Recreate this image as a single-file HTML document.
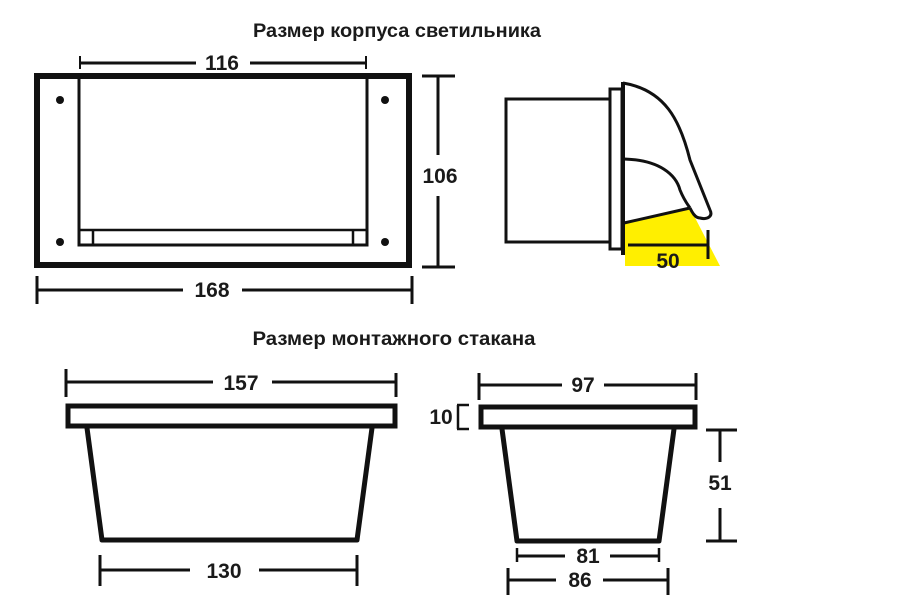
<!DOCTYPE html>
<html><head><meta charset="utf-8"><style>
html,body{margin:0;padding:0;background:#fff;}
svg{display:block;}
text{font-family:"Liberation Sans","DejaVu Sans",sans-serif;font-weight:bold;fill:#1a1a1a;}
</style></head><body>
<svg width="900" height="595" viewBox="0 0 900 595" xmlns="http://www.w3.org/2000/svg">
<g stroke="#111" fill="none" stroke-linecap="butt">
<rect x="37" y="76" width="372" height="189" stroke-width="6"/>
<rect x="79" y="76" width="288" height="169" stroke-width="3"/>
<line x1="79" y1="230" x2="367" y2="230" stroke-width="2.5"/>
<line x1="93" y1="230" x2="93" y2="245" stroke-width="2.5"/>
<line x1="353" y1="230" x2="353" y2="245" stroke-width="2.5"/>
<line x1="79" y1="63" x2="196" y2="63" stroke-width="3"/>
<line x1="250" y1="63" x2="366" y2="63" stroke-width="3"/>
<line x1="80" y1="56" x2="80" y2="69" stroke-width="2"/>
<line x1="366" y1="56" x2="366" y2="69" stroke-width="2"/>
<line x1="37" y1="290" x2="183" y2="290" stroke-width="3"/>
<line x1="242" y1="290" x2="412" y2="290" stroke-width="3"/>
<line x1="37" y1="276" x2="37" y2="304" stroke-width="3"/>
<line x1="412" y1="276" x2="412" y2="304" stroke-width="3"/>
<line x1="438" y1="76" x2="438" y2="155" stroke-width="3"/>
<line x1="438" y1="196" x2="438" y2="267" stroke-width="3"/>
<line x1="422" y1="76" x2="455" y2="76" stroke-width="3"/>
<line x1="422" y1="267" x2="455" y2="267" stroke-width="3"/>
</g>
<g fill="#111">
<circle cx="60" cy="100" r="4"/><circle cx="385" cy="100" r="4"/>
<circle cx="60" cy="242" r="4"/><circle cx="385" cy="242" r="4"/>
</g>
<polygon points="625,222 690,208 720,266 625,266" fill="#ffef00"/>
<g stroke="#111" fill="none">
<rect x="506" y="99" width="104" height="143" stroke-width="3"/>
<rect x="610" y="89" width="12" height="160" stroke-width="3"/>
<line x1="623" y1="82" x2="623" y2="255" stroke-width="4"/>
<path d="M623,83 C665,90 680,120 690,160 L710,210 C713,216 708,220 700,218 C695,218 692,212 690,208" stroke-width="3"/>
<path d="M624,159 C660,160 676,175 680,190 C684,200 688,205 690,208" stroke-width="3"/>
<line x1="624" y1="223" x2="690" y2="208" stroke-width="3"/>
<line x1="628" y1="245" x2="708" y2="245" stroke-width="3"/>
<line x1="708" y1="230" x2="708" y2="259" stroke-width="3"/>
</g>
<g stroke="#111" fill="none">
<rect x="68" y="406" width="327" height="20" stroke-width="5"/>
<polyline points="87,428 102,540 357,540 372,428" stroke-width="5" stroke-linejoin="round"/>
<line x1="66" y1="382" x2="213" y2="382" stroke-width="3"/>
<line x1="272" y1="382" x2="396" y2="382" stroke-width="3"/>
<line x1="66" y1="369" x2="66" y2="397" stroke-width="3"/>
<line x1="396" y1="373" x2="396" y2="397" stroke-width="3"/>
<line x1="100" y1="570" x2="190" y2="570" stroke-width="3"/>
<line x1="259" y1="570" x2="357" y2="570" stroke-width="3"/>
<line x1="100" y1="555" x2="100" y2="586" stroke-width="3"/>
<line x1="357" y1="555" x2="357" y2="586" stroke-width="3"/>
</g>
<g stroke="#111" fill="none">
<rect x="481" y="407" width="214" height="20" stroke-width="5"/>
<polyline points="502,429 517,541 659,541 674,429" stroke-width="5" stroke-linejoin="round"/>
<line x1="479" y1="385" x2="562" y2="385" stroke-width="3"/>
<line x1="604" y1="385" x2="696" y2="385" stroke-width="3"/>
<line x1="479" y1="373" x2="479" y2="400" stroke-width="3"/>
<line x1="696" y1="373" x2="696" y2="400" stroke-width="3"/>
<line x1="457" y1="405" x2="469" y2="405" stroke-width="2.5"/>
<line x1="457" y1="429" x2="469" y2="429" stroke-width="2.5"/>
<line x1="458" y1="405" x2="458" y2="429" stroke-width="2.5"/>
<line x1="720" y1="430" x2="720" y2="462" stroke-width="3"/>
<line x1="720" y1="508" x2="720" y2="541" stroke-width="3"/>
<line x1="706" y1="430" x2="737" y2="430" stroke-width="3"/>
<line x1="706" y1="541" x2="737" y2="541" stroke-width="3"/>
<line x1="517" y1="556" x2="565" y2="556" stroke-width="3"/>
<line x1="610" y1="556" x2="659" y2="556" stroke-width="3"/>
<line x1="517" y1="548" x2="517" y2="562" stroke-width="2.5"/>
<line x1="659" y1="548" x2="659" y2="562" stroke-width="2.5"/>
<line x1="508" y1="580" x2="556" y2="580" stroke-width="3"/>
<line x1="603" y1="580" x2="668" y2="580" stroke-width="3"/>
<line x1="508" y1="568" x2="508" y2="595" stroke-width="3"/>
<line x1="668" y1="568" x2="668" y2="595" stroke-width="3"/>
</g>
<g font-size="19.5">
<text x="397" y="37" text-anchor="middle" textLength="288" lengthAdjust="spacingAndGlyphs">Размер корпуса светильника</text>
<text x="394" y="345" text-anchor="middle" textLength="283" lengthAdjust="spacingAndGlyphs">Размер монтажного стакана</text>
</g>
<g font-size="21">
<text x="222" y="70" text-anchor="middle">116</text>
<text x="212" y="297" text-anchor="middle">168</text>
<text x="440" y="183" text-anchor="middle">106</text>
<text x="668" y="268" text-anchor="middle">50</text>
<text x="241" y="390" text-anchor="middle">157</text>
<text x="224" y="578" text-anchor="middle">130</text>
<text x="583" y="392" text-anchor="middle">97</text>
<text x="441" y="424" text-anchor="middle">10</text>
<text x="720" y="490" text-anchor="middle">51</text>
<text x="588" y="563" text-anchor="middle">81</text>
<text x="580" y="587" text-anchor="middle">86</text>
</g>
</svg>
</body></html>
